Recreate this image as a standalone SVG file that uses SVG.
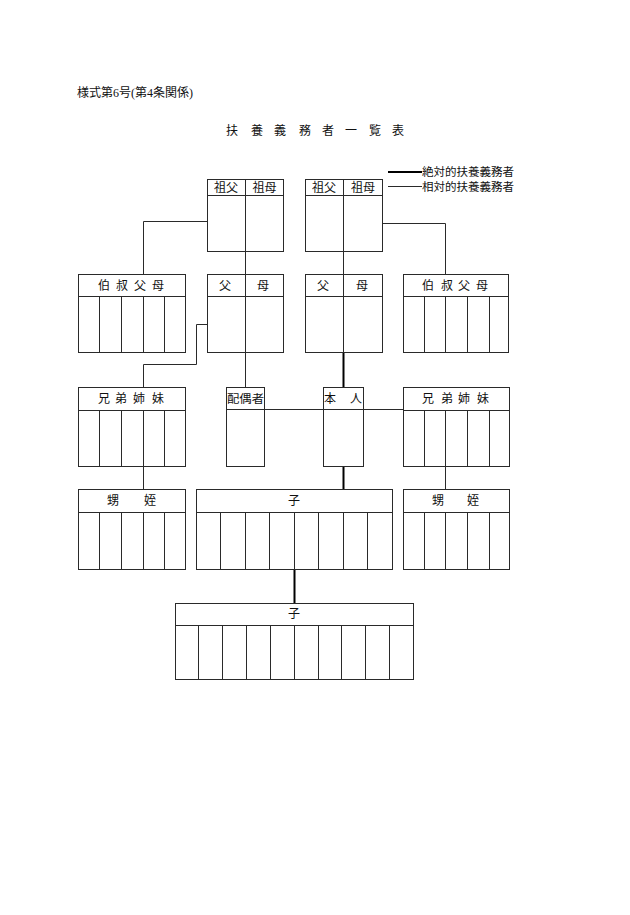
<svg xmlns="http://www.w3.org/2000/svg" width="630" height="915" viewBox="0 0 630 915">
<style>
.bx{fill:#fff;stroke:#2a2a2a;stroke-width:1}
.ln{fill:none;stroke:#2a2a2a;stroke-width:1}
.th{fill:none;stroke:#000;stroke-width:2}
.t{font-family:"Noto Sans CJK JP","Noto Sans CJK SC",sans-serif;font-size:12px;fill:#111;text-anchor:middle}
.ts{font-family:"Liberation Serif","Noto Sans CJK JP",serif;font-size:12px;fill:#111}
.tl{font-family:"Noto Sans CJK JP",sans-serif;font-size:11.5px;fill:#111}
</style>
<rect width="630" height="915" fill="#fff"/>
<g id="title">
<text class="ts" x="77" y="97">様式第6号(第4条関係)</text>
<text class="t" x="232 257 280 305 328 351 375 398" y="135" style="font-family:'Liberation Serif','Noto Sans CJK JP',serif">扶養義務者一覧表</text>
</g>
<g id="legend">
<line class="th" x1="388" y1="172" x2="422" y2="172"/>
<text class="tl" x="422" y="175.5">絶対的扶養義務者</text>
<line class="ln" x1="388" y1="186.5" x2="422" y2="186.5"/>
<text class="tl" x="422" y="190.5">相対的扶養義務者</text>
</g>
<g id="connectors">
<polyline class="ln" points="207,221.5 143.5,221.5 143.5,274"/>
<polyline class="ln" points="382,223.5 445.5,223.5 445.5,274"/>
<line class="ln" x1="245.5" y1="251" x2="245.5" y2="274"/>
<line class="ln" x1="245.5" y1="352" x2="245.5" y2="387"/>
<line class="ln" x1="343.5" y1="251" x2="343.5" y2="274"/>
<line class="th" x1="343.5" y1="352" x2="343.5" y2="387"/>
<polyline class="ln" points="207,324.5 196.5,324.5 196.5,364.5 143.5,364.5 143.5,387"/>
<line class="ln" x1="264" y1="409.5" x2="323" y2="409.5"/>
<line class="ln" x1="363" y1="409.5" x2="403" y2="409.5"/>
<line class="ln" x1="143.5" y1="466" x2="143.5" y2="489"/>
<line class="ln" x1="445.5" y1="466" x2="445.5" y2="489"/>
<line class="th" x1="343.5" y1="466" x2="343.5" y2="489"/>
<line class="th" x1="294.5" y1="569" x2="294.5" y2="603"/>
</g>
<g id="gp-left">
<rect class="bx" x="207.5" y="179.5" width="76" height="72"/>
<line class="ln" x1="207.5" y1="195.5" x2="283.5" y2="195.5"/>
<line class="ln" x1="245.5" y1="179.5" x2="245.5" y2="251.5"/>
<text class="t" x="226" y="192">祖父</text>
<text class="t" x="264.5" y="192">祖母</text>
</g>
<g id="gp-right">
<rect class="bx" x="305.5" y="179.5" width="77" height="72"/>
<line class="ln" x1="305.5" y1="195.5" x2="382.5" y2="195.5"/>
<line class="ln" x1="343.5" y1="179.5" x2="343.5" y2="251.5"/>
<text class="t" x="324" y="192">祖父</text>
<text class="t" x="363" y="192">祖母</text>
</g>
<g id="uncle-left">
<rect class="bx" x="78.5" y="274.5" width="107" height="78"/>
<line class="ln" x1="78.5" y1="296.5" x2="185.5" y2="296.5"/>
<path class="ln" d="M99.5 296.5V352.5M121.5 296.5V352.5M143.5 296.5V352.5M164.5 296.5V352.5"/>
<text class="t" x="104 122 140 158" y="290">伯叔父母</text>
</g>
<g id="parents-left">
<rect class="bx" x="207.5" y="274.5" width="76" height="78"/>
<line class="ln" x1="207.5" y1="296.5" x2="283.5" y2="296.5"/>
<line class="ln" x1="245.5" y1="274.5" x2="245.5" y2="352.5"/>
<text class="t" x="225 263" y="290">父母</text>
</g>
<g id="parents-right">
<rect class="bx" x="305.5" y="274.5" width="77" height="78"/>
<line class="ln" x1="305.5" y1="296.5" x2="382.5" y2="296.5"/>
<line class="ln" x1="343.5" y1="274.5" x2="343.5" y2="352.5"/>
<text class="t" x="323 362" y="290">父母</text>
</g>
<g id="uncle-right">
<rect class="bx" x="403.5" y="274.5" width="105" height="78"/>
<line class="ln" x1="403.5" y1="296.5" x2="508.5" y2="296.5"/>
<path class="ln" d="M424.5 296.5V352.5M445.5 296.5V352.5M467.5 296.5V352.5M489.5 296.5V352.5"/>
<text class="t" x="428 447 464 482" y="290">伯叔父母</text>
</g>
<g id="sib-left">
<rect class="bx" x="78.5" y="387.5" width="107" height="79"/>
<line class="ln" x1="78.5" y1="410.5" x2="185.5" y2="410.5"/>
<path class="ln" d="M99.5 410.5V466.5M121.5 410.5V466.5M143.5 410.5V466.5M164.5 410.5V466.5"/>
<text class="t" x="104 121 139 158" y="403">兄弟姉妹</text>
</g>
<g id="spouse">
<rect class="bx" x="226.5" y="387.5" width="38" height="79"/>
<line class="ln" x1="226.5" y1="409.5" x2="264.5" y2="409.5"/>
<text class="tl" x="227" y="403" textLength="37" lengthAdjust="spacingAndGlyphs">配偶者</text>
</g>
<g id="self">
<rect class="bx" x="323.5" y="387.5" width="40" height="79"/>
<line class="ln" x1="323.5" y1="409.5" x2="363.5" y2="409.5"/>
<text class="t" x="330 356" y="403">本人</text>
</g>
<g id="sib-right">
<rect class="bx" x="403.5" y="387.5" width="106" height="79"/>
<line class="ln" x1="403.5" y1="410.5" x2="509.5" y2="410.5"/>
<path class="ln" d="M424.5 410.5V466.5M445.5 410.5V466.5M467.5 410.5V466.5M489.5 410.5V466.5"/>
<text class="t" x="428 447 464 483" y="403">兄弟姉妹</text>
</g>
<g id="nephew-left">
<rect class="bx" x="78.5" y="489.5" width="107" height="80"/>
<line class="ln" x1="78.5" y1="512.5" x2="185.5" y2="512.5"/>
<path class="ln" d="M99.5 512.5V569.5M121.5 512.5V569.5M143.5 512.5V569.5M164.5 512.5V569.5"/>
<text class="t" x="113 150" y="505">甥姪</text>
</g>
<g id="child">
<rect class="bx" x="196.5" y="489.5" width="196" height="80"/>
<line class="ln" x1="196.5" y1="512.5" x2="392.5" y2="512.5"/>
<path class="ln" d="M220.5 512.5V569.5M245.5 512.5V569.5M269.5 512.5V569.5M294.5 512.5V569.5M318.5 512.5V569.5M343.5 512.5V569.5M367.5 512.5V569.5"/>
<text class="t" x="294" y="505">子</text>
</g>
<g id="nephew-right">
<rect class="bx" x="403.5" y="489.5" width="106" height="80"/>
<line class="ln" x1="403.5" y1="512.5" x2="509.5" y2="512.5"/>
<path class="ln" d="M424.5 512.5V569.5M445.5 512.5V569.5M467.5 512.5V569.5M489.5 512.5V569.5"/>
<text class="t" x="438 473" y="505">甥姪</text>
</g>
<g id="grandchild">
<rect class="bx" x="175.5" y="603.5" width="238" height="76"/>
<line class="ln" x1="175.5" y1="625.5" x2="413.5" y2="625.5"/>
<path class="ln" d="M198.5 625.5V679.5M222.5 625.5V679.5M246.5 625.5V679.5M270.5 625.5V679.5M294.5 625.5V679.5M318.5 625.5V679.5M341.5 625.5V679.5M365.5 625.5V679.5M389.5 625.5V679.5"/>
<text class="t" x="294" y="618">子</text>
</g>
</svg>
